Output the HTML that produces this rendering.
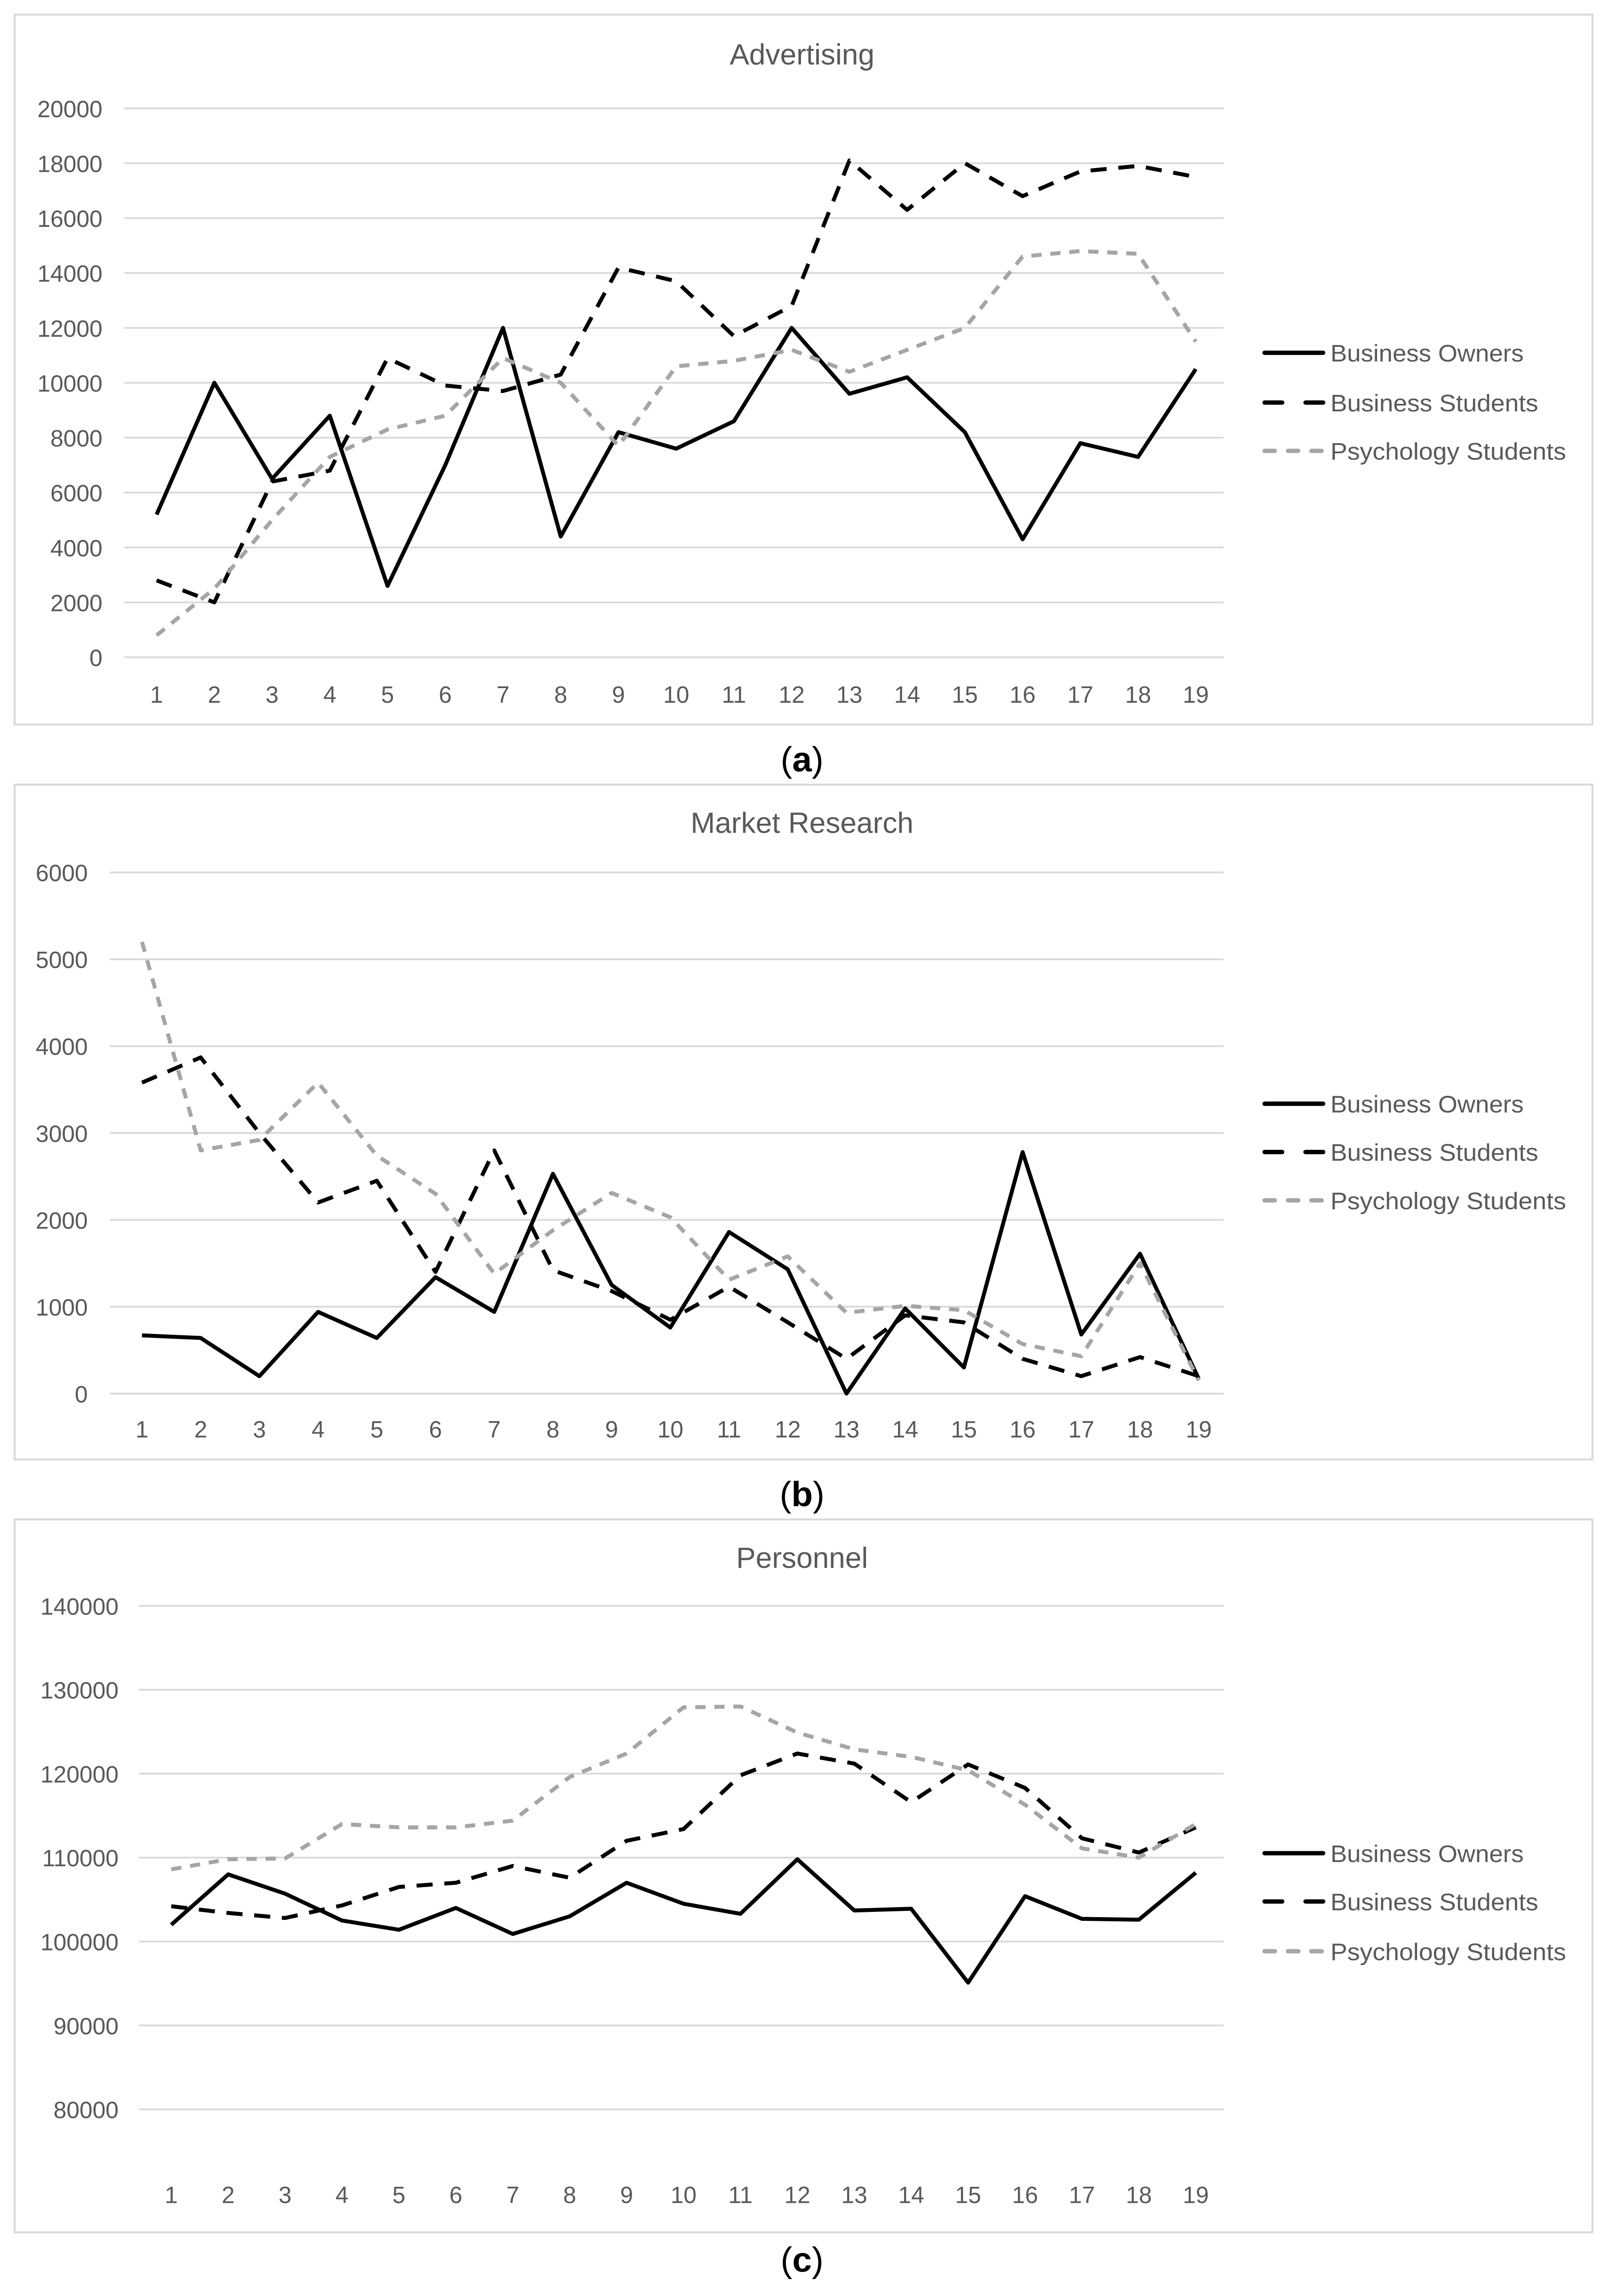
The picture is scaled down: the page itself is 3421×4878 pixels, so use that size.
<!DOCTYPE html>
<html><head><meta charset="utf-8"><style>
html,body{margin:0;padding:0;background:#fff;}
svg{display:block;}
text{font-family:"Liberation Sans",sans-serif;}
</style></head><body>
<svg id="fig" width="3421" height="4878" viewBox="0 0 1100 1568.5" preserveAspectRatio="none" xmlns="http://www.w3.org/2000/svg"></svg>
<script>
const xCategories = [1,2,3,4,5,6,7,8,9,10,11,12,13,14,15,16,17,18,19];
const seriesNames = ["Business Owners","Business Students","Psychology Students"];

const advTicks = [0,2000,4000,6000,8000,10000,12000,14000,16000,18000,20000];
const advOwners = [5200,10000,6500,8800,2600,7000,12000,4400,8200,7600,8600,12000,9600,10200,8200,4300,7800,7300,10500];
const advBusStudents = [2800,2000,6400,6800,10900,9900,9700,10300,14200,13700,11700,12800,18100,16300,18000,16800,17700,17900,17500];
const advPsyStudents = [800,2500,5000,7300,8300,8800,10900,10000,7700,10600,10800,11200,10400,11200,12000,14600,14800,14700,11500];

const mrTicks = [0,1000,2000,3000,4000,5000,6000];
const mrOwners = [670,640,200,940,640,1340,940,2530,1250,760,1860,1430,0,980,300,2780,680,1610,170];
const mrBusStudents = [3580,3870,3000,2200,2450,1400,2800,1420,1180,850,1230,820,400,900,820,400,200,420,200];
const mrPsyStudents = [5200,2800,2920,3580,2740,2300,1380,1880,2310,2030,1310,1580,930,1010,960,570,430,1500,150];

const perTicks = [80000,90000,100000,110000,120000,130000,140000];
const perOwners = [102000,108000,105700,102500,101400,104000,100900,103000,107000,104500,103300,109800,103700,103900,95100,105400,102700,102600,108200];
const perBusStudents = [104200,103400,102800,104300,106500,107000,109000,107600,112000,113400,119800,122400,121200,116600,121100,118300,112300,110600,113600];
const perPsyStudents = [108600,109800,109900,114000,113600,113600,114400,119600,122400,127900,128000,124900,122900,122000,120400,116300,111100,110000,114000];

const NS = "http://www.w3.org/2000/svg";
const svg = document.getElementById('fig');
function mk(tag, attrs, parent){
  const e = document.createElementNS(NS, tag);
  for (const k in attrs) e.setAttribute(k, attrs[k]);
  (parent||svg).appendChild(e);
  return e;
}
const styles = [
  {stroke:"#000", dash:null},
  {stroke:"#000", dash:"11,8"},
  {stroke:"#a5a5a5", dash:"7,6"}
];

function panel(cfg){
  const g = mk('g', {});
  
  
  const fr = mk('rect', {x:10, y:cfg.top, width:1078, height:cfg.bottom-cfg.top, fill:"#fff", stroke:"#d9d9d9", "stroke-width":1.3}, g);
  
  
  const t = mk('text', {x:548, y:cfg.titleY, "text-anchor":"middle", "font-size":20, fill:"#595959"}, g);
  t.textContent = cfg.title;
  
  
  const tmin = cfg.ticks[0], tmax = cfg.ticks[cfg.ticks.length-1];
  const yS = v => cfg.y0 + (v - tmin) / (tmax - tmin) * (cfg.y1 - cfg.y0);
  const xS = i => cfg.x0 + (i) / (xCategories.length-1) * (cfg.x1 - cfg.x0);
  cfg.ticks.forEach(v => {
    const l = mk('line', {x1:cfg.gl, x2:836, y1:yS(v), y2:yS(v), stroke:"#d9d9d9", "stroke-width":1.2}, g);
    
    
    const tx = mk('text', {x:cfg.lx, y:yS(v)+6, "text-anchor":"end", "font-size":16, fill:"#595959"}, g);
    tx.textContent = v;
    
    
  });
  xCategories.forEach((c,i) => {
    const tx = mk('text', {x:xS(i), y:cfg.xlY, "text-anchor":"middle", "font-size":16, fill:"#595959"}, g);
    tx.textContent = c;
    
    
  });
  cfg.series.forEach((s, si) => {
    const pts = s.map((v,i) => xS(i).toFixed(2)+","+yS(v).toFixed(2)).join(" ");
    const a = {points:pts, fill:"none", stroke:styles[si].stroke, "stroke-width":2.7, "stroke-linejoin":"round", "stroke-linecap":"butt"};
    if (styles[si].dash) a["stroke-dasharray"] = styles[si].dash;
    const pl = mk('polyline', a, g);
    
    
  });
  cfg.legY.forEach((ly, si) => {
    const lg = mk('g', {}, g);
    
    
    const a = {x1:864, x2:904, y1:ly, y2:ly, stroke:styles[si].stroke, "stroke-width":3, "stroke-linecap":"round"};
    if (styles[si].dash) a["stroke-dasharray"] = si==1 ? "12,16" : "7,9";
    mk('line', a, lg);
    const tx = mk('text', {x:909, y:ly+6, "font-size":16.5, fill:"#595959", textLength:[132,142,161][si], lengthAdjust:"spacingAndGlyphs"}, lg);
    tx.textContent = seriesNames[si];
  });
  const cap = mk('text', {x:548, y:cfg.capY, "text-anchor":"middle", "font-size":24, fill:"#000", "font-family":"Liberation Serif, serif"}, g);
  cap.innerHTML = '(<tspan font-weight="bold">' + cfg.cap + '</tspan>)';
  
  
}

panel({name:"advertising-chart", title:"Advertising", top:10, bottom:495, titleY:44, ticks:advTicks, y0:449, y1:74, x0:107, x1:817, gl:85, lx:70, xlY:480, legY:[241,275,308], capY:527, cap:"a", series:[advOwners, advBusStudents, advPsyStudents]});
panel({name:"market-research-chart", title:"Market Research", top:536, bottom:997, titleY:569, ticks:mrTicks, y0:952, y1:596, x0:97, x1:819, gl:75, lx:60, xlY:982, legY:[754,787,820], capY:1029, cap:"b", series:[mrOwners, mrBusStudents, mrPsyStudents]});
panel({name:"personnel-chart", title:"Personnel", top:1038, bottom:1525, titleY:1071, ticks:perTicks, y0:1441, y1:1097, x0:117, x1:817, gl:95, lx:81, xlY:1505, legY:[1266,1299,1333], capY:1552, cap:"c", series:[perOwners, perBusStudents, perPsyStudents]});
</script>
</body></html>
